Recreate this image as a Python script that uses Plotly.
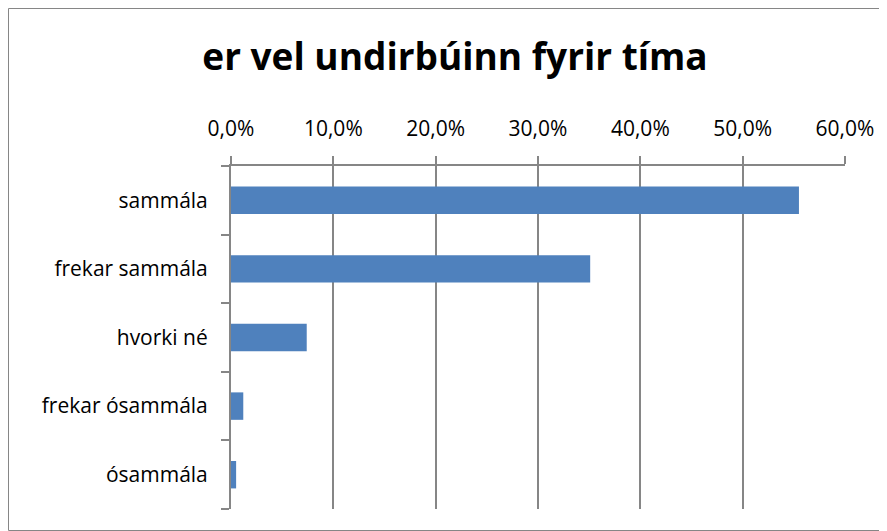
import plotly.graph_objects as go

categories = ["sammála", "frekar sammála", "hvorki né", "frekar ósammála", "ósammála"]
values = [0.555, 0.351, 0.074, 0.012, 0.005]
title_text = "er vel undirbúinn fyrir tíma"

OFF = 8  # page body margin
W, H = 887 - OFF, 531 - OFF
L, R, T, B = 231 - OFF, 42, 166 - OFF, 22
pw, ph = W - L - R, H - T - B

fig = go.Figure(go.Bar(
    x=values, y=categories, orientation="h",
    marker=dict(color="#4F81BD", line=dict(width=0)),
    width=0.4,
))

font_fam = "'Open Sans', sans-serif"
fig.update_layout(
    width=W, height=H,
    margin=dict(l=L, r=R, t=T, b=B),
    paper_bgcolor="white", plot_bgcolor="white",
    separators=",.",
    showlegend=False,
    title=dict(text="<b>" + title_text + "</b>", x=(455 - OFF) / W,
               xref="container", xanchor="center",
               y=1 - (57 - OFF) / H, yanchor="middle",
               font=dict(size=37, color="black", family=font_fam)),
    xaxis=dict(side="top", range=[0, 0.6], dtick=0.1, tickformat=".1%",
               showgrid=True, gridcolor="#868686", gridwidth=2,
               showline=True, linecolor="#868686", linewidth=2,
               ticks="outside", ticklen=8, tickcolor="#868686", tickwidth=2,
               ticklabelstandoff=12,
               tickfont=dict(size=21, color="black", family=font_fam),
               zeroline=False, fixedrange=True),
    yaxis=dict(categoryorder="array", categoryarray=categories[::-1],
               showline=True, linecolor="#868686", linewidth=2,
               ticks="outside", ticklen=8, tickcolor="#868686", tickwidth=2,
               tickson="boundaries", showgrid=False,
               ticklabelstandoff=17,
               tickfont=dict(size=21, color="black", family=font_fam)),
    shapes=[dict(type="rect", xref="paper", yref="paper",
                 x0=-(L - 0.5) / pw, x1=1 + (R - 0.5) / pw,
                 y0=-(B - 0.5) / ph, y1=1 + (T - 0.5) / ph,
                 line=dict(color="#868686", width=1))],
)

fig.write_html("out.html")
